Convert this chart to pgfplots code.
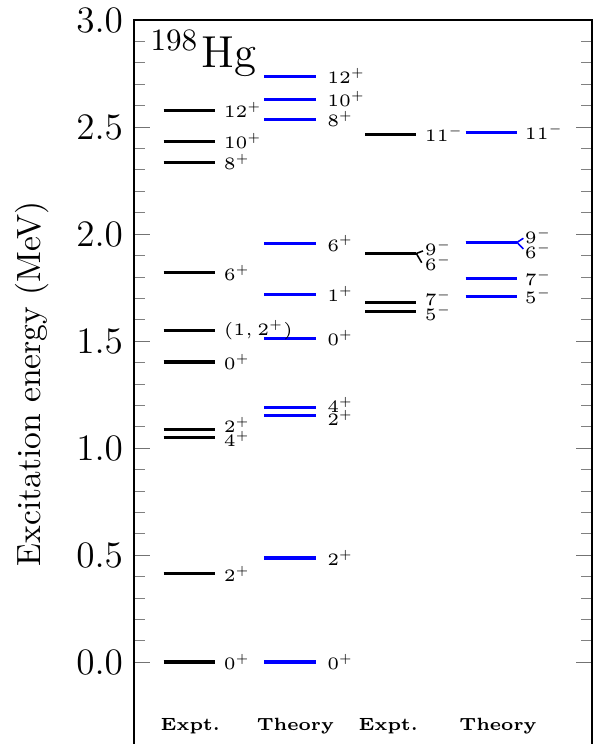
\RequirePackage{fix-cm}
\documentclass[border=0pt]{standalone}
\usepackage{pgfplots}
\usepackage{pgfplotstable}
\pgfplotsset{compat=1.18}

% level energies (MeV), label height, spin-parity
\pgfplotstableread{
E      Elab   label
0.000  0.000  $0^+$
0.412  0.412  $2^+$
1.048  1.041  $4^+$
1.088  1.108  $2^+$
1.402  1.402  $0^+$
1.551  1.551  $(1,2^+)$
1.819  1.819  $6^+$
2.335  2.335  $8^+$
2.433  2.433  $10^+$
2.579  2.579  $12^+$
}\exptpos

\pgfplotstableread{
E      Elab   label
0.000  0.000  $0^+$
0.486  0.486  $2^+$
1.150  1.141  $2^+$
1.190  1.201  $4^+$
1.513  1.513  $0^+$
1.718  1.718  $1^+$
1.956  1.956  $6^+$
2.537  2.537  $8^+$
2.629  2.629  $10^+$
2.737  2.737  $12^+$
}\theorypos

\pgfplotstableread{
E      Elab   label
1.636  1.631  $5^-$
1.681  1.700  $7^-$
1.909  1.866  $6^-$
1.910  1.933  $9^-$
2.467  2.467  $11^-$
}\exptneg

\pgfplotstableread{
E      Elab   label
1.709  1.710  $5^-$
1.793  1.793  $7^-$
1.961  1.921  $6^-$
1.961  1.990  $9^-$
2.475  2.475  $11^-$
}\theoryneg

\newcommand{\levelfont}{\fontsize{5.6}{6.5}\selectfont}
\newcommand{\colfont}{\fontsize{5.7}{6.5}\selectfont\bfseries}

\begin{document}
\begin{tikzpicture}
\begin{axis}[
  scale only axis,
  width=147.3pt, height=234.0pt,
  xmin=0.45, xmax=5, ymin=-0.4, ymax=3,
  xtick=\empty,
  ytick={0,0.5,1,1.5,2,2.5,3},
  minor y tick num=4,
  major tick length=5.1pt, minor tick length=3.4pt,
  every major tick/.append style={black!55},
  yticklabel style={font=\large, /pgf/number format/.cd, fixed, fixed zerofill, precision=1},
  ylabel={Excitation energy (MeV)},
  ylabel style={at={(axis description cs:-0.1834,0.5)}, anchor=south, inner sep=0pt,
    font=\fontsize{10.8}{13}\selectfont},
  clip=false,
  level/.style={quiver={u=0.51, v=0}, line width=1pt},
  levellabel/.style={draw=none, nodes near coords, point meta=explicit symbolic,
    nodes near coords style={anchor=west, inner sep=0pt, font=\levelfont}},
]
% level lines
\addplot[level, black] table[x expr=0.745, y=E] {\exptpos};
\addplot[level, blue]  table[x expr=1.745, y=E] {\theorypos};
\addplot[level, black] table[x expr=2.745, y=E] {\exptneg};
\addplot[level, blue]  table[x expr=3.745, y=E] {\theoryneg};

% connectors for the near-degenerate 9-/6- pairs
\addplot[black, line width=0.5pt] coordinates {(3.321,1.921) (3.255,1.909) (3.308,1.866)};
\addplot[blue,  line width=0.5pt] coordinates {(4.318,1.980) (4.255,1.961) (4.318,1.930)};

% spin-parity labels
\addplot[levellabel] table[x expr=1.337, y=Elab, meta=label] {\exptpos};
\addplot[levellabel] table[x expr=2.365, y=Elab, meta=label] {\theorypos};
\addplot[levellabel] table[x expr=3.334, y=Elab, meta=label] {\exptneg};
\addplot[levellabel] table[x expr=4.328, y=Elab, meta=label] {\theoryneg};

% column headings and nucleus
\node[anchor=base, font=\colfont] at (axis cs:1.009,-0.321) {Expt.};
\node[anchor=base, font=\colfont] at (axis cs:2.053,-0.321) {Theory};
\node[anchor=base, font=\colfont] at (axis cs:2.976,-0.321) {Expt.};
\node[anchor=base, font=\colfont] at (axis cs:4.066,-0.321) {Theory};
\node[anchor=north west, inner sep=0pt, font=\Large] at (axis description cs:0.035,0.986) {$^{198}$\kern1pt Hg};
\end{axis}
\pgfresetboundingbox
\path ([xshift=-43.09pt, yshift=1.17pt]current axis.south west)
  rectangle ([xshift=3.54pt, yshift=6.43pt]current axis.north east);
\end{tikzpicture}
\end{document}
